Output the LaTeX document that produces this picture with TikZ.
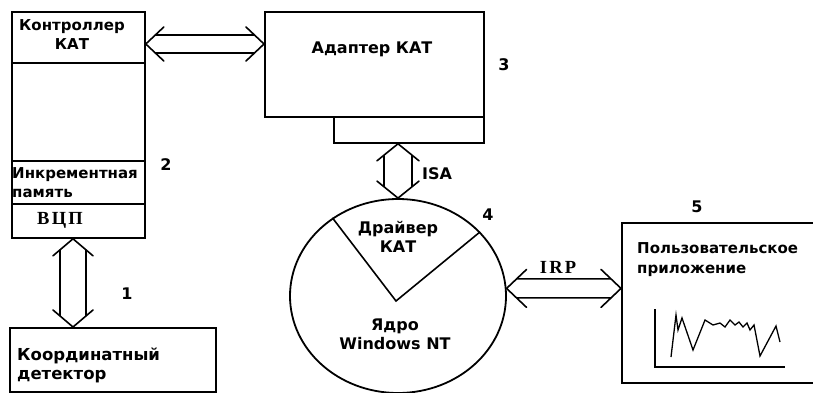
\documentclass[tikz,border=0pt]{standalone}
\usepackage{fontspec}
\setmainfont{DejaVu Sans}
\newfontfamily\serifb{Liberation Serif}[LetterSpace=12]
\usetikzlibrary{calc,shapes.geometric}
\newcommand{\harrow}[5]{%
  \draw[arr] let \p1=(#1), \p2=(#2), \n1={#5*#3/#4} in
    (\x1+#3pt,\y1+#4pt) -- (\x1,\y1) -- (\x1+#3pt,\y1-#4pt)
    (\x2-#3pt,\y2+#4pt) -- (\x2,\y2) -- (\x2-#3pt,\y2-#4pt)
    (\x1+\n1 pt,\y1+#5pt) -- (\x2-\n1 pt,\y2+#5pt)
    (\x1+\n1 pt,\y1-#5pt) -- (\x2-\n1 pt,\y2-#5pt);}
\newcommand{\varrow}[5]{%
  \draw[arr] let \p1=(#1), \p2=(#2), \n1={#5*#3/#4} in
    (\x1-#4pt,\y1-#3pt) -- (\x1,\y1) -- (\x1+#4pt,\y1-#3pt)
    (\x2-#4pt,\y2+#3pt) -- (\x2,\y2) -- (\x2+#4pt,\y2+#3pt)
    (\x1-#5pt,\y1-\n1 pt) -- (\x2-#5pt,\y2+\n1 pt)
    (\x1+#5pt,\y1-\n1 pt) -- (\x2+#5pt,\y2+\n1 pt);}
\tikzset{
  box/.style={draw, line width=1.8pt, inner sep=0pt, anchor=north west},
  sep/.style={line width=1.4pt},
  arr/.style={line width=1.6pt, line cap=round, line join=miter},
  lbl/.style={inner sep=0pt, font=\bfseries\fontsize{16}{19}\selectfont},
  lblsm/.style={inner sep=0pt, font=\bfseries\fontsize{15}{19}\selectfont},
  ser/.style={inner sep=0pt, font=\serifb\bfseries\fontsize{18.5}{20}\selectfont},
  chart/.style={line width=1.3pt, line join=miter},
}
\begin{document}
\begin{tikzpicture}[x=1pt,y=-1pt]
\clip (0,0) rectangle (813,393);
\fill[white] (0,0) rectangle (813,393);
% controller
\node[box, minimum width=133pt, minimum height=226pt] (ctrl) at (11,11) {};
\draw[sep] (ctrl.west |- 0,63) -- (ctrl.east |- 0,63);
\draw[sep] (ctrl.west |- 0,161) -- (ctrl.east |- 0,161);
\draw[sep] (ctrl.west |- 0,204) -- (ctrl.east |- 0,204);
\node[lblsm, align=center] (ctrlt) at (72,35) {Контроллер\\КАТ};
\node[lblsm, align=left, anchor=west] (mem) at (12,183) {Инкрементная\\память};
\node[ser] (adc) at (60,220) {ВЦП};
\node[lbl] (n2) at (166,165) {2};
% adapter
\node[box, minimum width=219pt, minimum height=105pt] (adap) at (264,11) {};
\node[box, minimum width=150pt, minimum height=26pt] (sub) at (333,116) {};
\node[lbl] (adapt) at (372,49) {Адаптер КАТ};
\node[lbl] (n3) at (504,65) {3};
% kernel
\node[draw, ellipse, line width=1.8pt, inner sep=0pt, minimum width=216pt, minimum height=194pt] (kern) at (398,296) {};
\coordinate (apex) at (396,301);
\draw[line width=1.6pt] (kern.130.5) -- (apex) -- (kern.38);
\node[lbl, align=center] (drv) at (398,237) {Драйвер\\КАТ};
\node[lbl, align=center] (core) at (395,334) {Ядро\\Windows NT};
\node[lbl] (n4) at (488,215) {4};
% application
\node[box, minimum width=220pt, minimum height=160pt] (app) at (621,222) {};
\node[lbl, align=left, anchor=west, font=\bfseries\fontsize{15}{20}\selectfont] (appt) at (637,260) {Пользовательское\\приложение};
\node[lbl] (n5) at (697,207) {5};
\coordinate (ax) at (655,367);
\draw[chart] (655,309) -- (ax) -- (785,367);
\draw[chart] (671,357) -- (676,315) -- (678,330) -- (682,318) -- (693,350) -- (705,320)
  -- (713,325) -- (720,323) -- (725,327) -- (730,320) -- (735,325) -- (739,322)
  -- (743,327) -- (747,323) -- (750,330) -- (754,325) -- (760,356) -- (776,326) -- (780,342);
% detector
\node[box, minimum width=206pt, minimum height=64pt] (det) at (9,327) {};
\node[lbl, align=left, anchor=west, font=\bfseries\fontsize{16.5}{19}\selectfont] (dett) at (17,365) {Координатный\\детектор};
\node[lbl] (n1) at (127,294) {1};
% connectors
\coordinate (ca1) at (ctrl.east |- 0,44);
\coordinate (ca2) at (adap.west |- 0,44);
\harrow{ca1}{ca2}{18}{17}{9}
\coordinate (isa1) at (sub.south -| kern.north);
\coordinate (isa2) at (kern.north);
\varrow{isa1}{isa2}{17}{21}{14}
\node[lbl] (isat) at (437,174) {ISA};
\coordinate (v1) at (ctrl.south -| 73,0);
\coordinate (v2) at (det.north -| 73,0);
\varrow{v1}{v2}{17}{20}{13}
\coordinate (irp1) at (kern.4);
\coordinate (irp2) at (app.west |- irp1);
\harrow{irp1}{irp2}{20}{19}{9.5}
\node[ser] (irpt) at (558,267) {IRP};
\end{tikzpicture}
\end{document}
